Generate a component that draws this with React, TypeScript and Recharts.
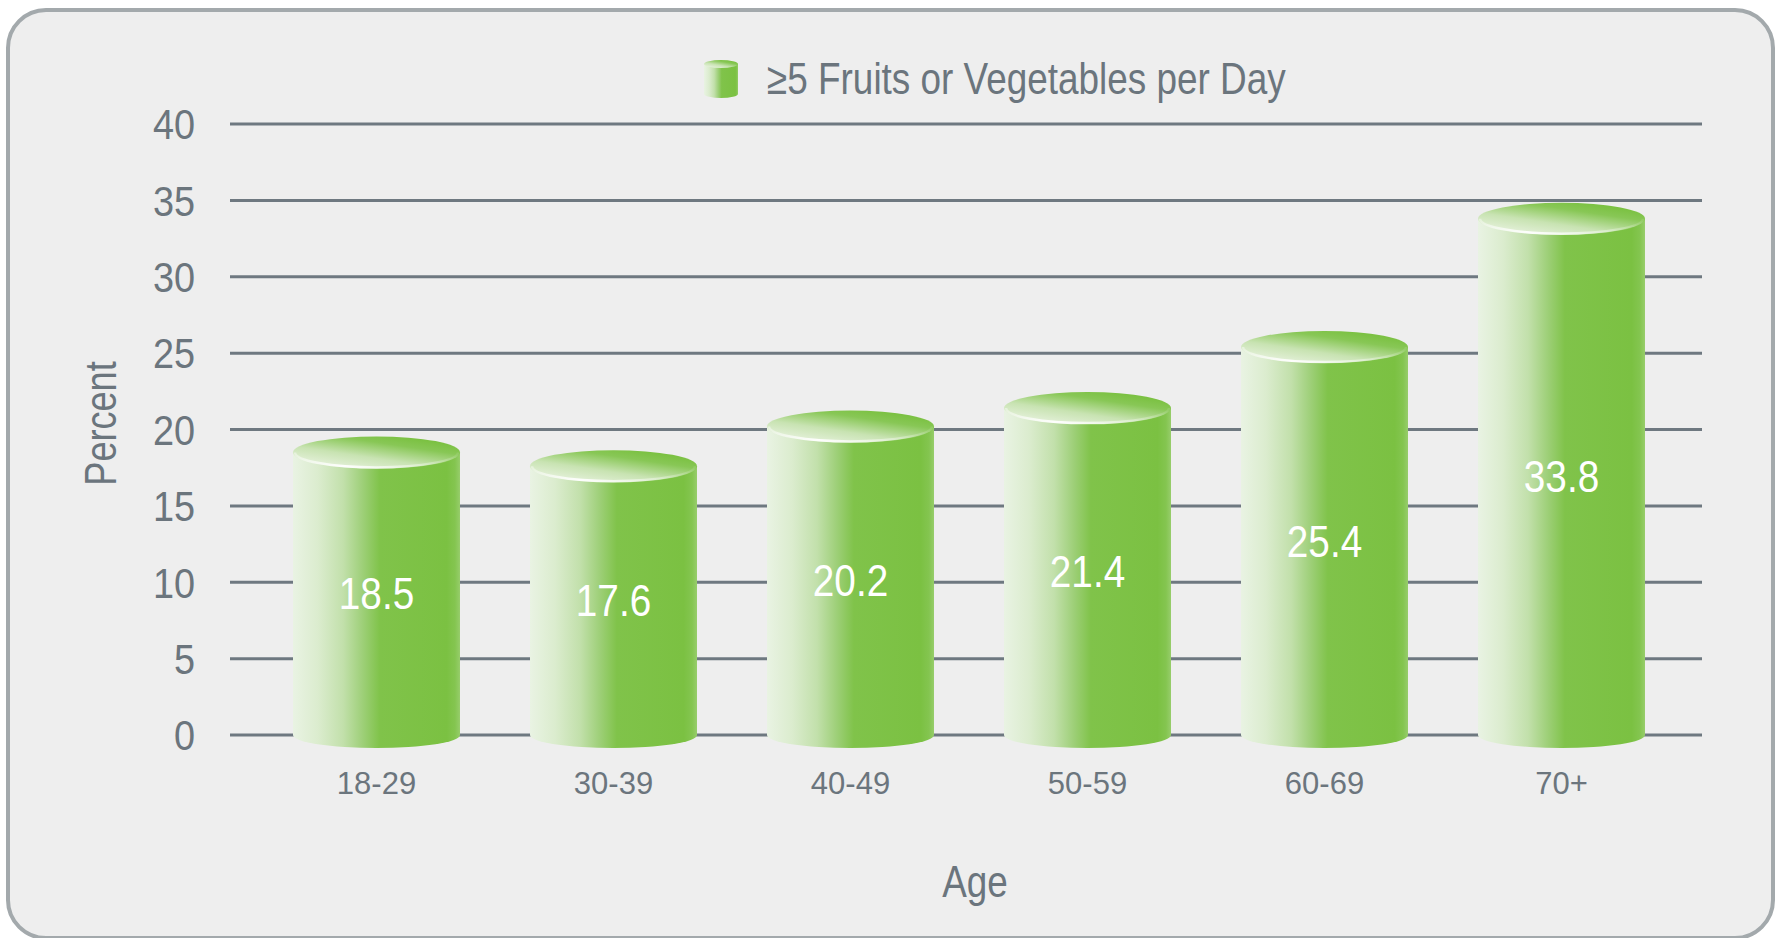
import React from "react";
import { BarChart, Bar, XAxis, YAxis, CartesianGrid, Legend, LabelList } from "recharts";

const ageGroups = ["18-29", "30-39", "40-49", "50-59", "60-69", "70+"];
const fruitVegPct = [18.5, 17.6, 20.2, 21.4, 25.4, 33.8];
const yTicks = [0, 5, 10, 15, 20, 25, 30, 35, 40];
const seriesName = "\u22655 Fruits or Vegetables per Day";

const chartData = ageGroups.map((age, i) => ({ age, pct: fruitVegPct[i] }));

// no condensed font installed, so Liberation Sans gets squeezed horizontally
const FONT = '"Liberation Sans", Arial, sans-serif';
const WORD_SQUEEZE = 0.82;
const DIGIT_SQUEEZE = 0.88;
const TEXT = "#6b757d";

function GradientDefs({ prefix }: { prefix: string }) {
  return (
    <defs>
      <linearGradient id={`${prefix}Body`} x1="0" y1="0" x2="1" y2="0">
        <stop offset="0" stopColor="#e9f3e3" />
        <stop offset="0.15" stopColor="#dbecce" />
        <stop offset="0.3" stopColor="#c2e0ab" />
        <stop offset="0.42" stopColor="#9dcf77" />
        <stop offset="0.52" stopColor="#80c34a" />
        <stop offset="0.92" stopColor="#7bc142" />
        <stop offset="0.97" stopColor="#84c550" />
        <stop offset="1" stopColor="#97cd6b" />
      </linearGradient>
      <linearGradient id={`${prefix}Top`} x1="0" y1="0.95" x2="0.7" y2="0.05">
        <stop offset="0" stopColor="#f0f6ea" />
        <stop offset="0.45" stopColor="#c8e3b2" />
        <stop offset="0.8" stopColor="#88c756" />
        <stop offset="1" stopColor="#7bc142" />
      </linearGradient>
      <linearGradient id={`${prefix}Rim`} x1="0" y1="0" x2="1" y2="0">
        <stop offset="0" stopColor="#ffffff" stopOpacity={0.4} />
        <stop offset="0.3" stopColor="#ffffff" stopOpacity={0.95} />
        <stop offset="0.65" stopColor="#ffffff" stopOpacity={0.5} />
        <stop offset="1" stopColor="#ffffff" stopOpacity={0.1} />
      </linearGradient>
    </defs>
  );
}

function Cylinder(props: any) {
  const { x, y, width, height } = props;
  const rx = width / 2;
  const ry = 16;
  const bry = 13;
  const bottom = y + height;
  const body = `M${x},${y} L${x},${bottom} A${rx},${bry} 0 0 0 ${x + width},${bottom} L${x + width},${y} Z`;
  return (
    <g>
      <path d={body} fill="url(#cylBody)" />
      <ellipse cx={x + rx} cy={y} rx={rx} ry={ry} fill="url(#cylTop)" />
      <path
        d={`M${x + 2},${y} A${rx - 2},${ry - 1} 0 0 0 ${x + width - 2},${y}`}
        fill="none"
        stroke="url(#cylRim)"
        strokeWidth={2.5}
      />
    </g>
  );
}

function YTick({ x, y, payload }: any) {
  return (
    <text transform={`translate(${x},${y}) scale(${DIGIT_SQUEEZE},1)`} textAnchor="end" dy="0.355em" fill={TEXT} fontSize={43} fontFamily={FONT}>
      {payload.value}
    </text>
  );
}

function XTick({ x, y, payload }: any) {
  return (
    <text x={x} y={y} textAnchor="middle" dy="0.71em" fill={TEXT} fontSize={31} fontFamily={FONT}>
      {payload.value}
    </text>
  );
}

function ValueLabel({ x, y, width, height, value }: any) {
  const cx = x + width / 2;
  const cy = y + height / 2;
  return (
    <text transform={`translate(${cx},${cy}) scale(${DIGIT_SQUEEZE},1)`} textAnchor="middle" dy="0.355em" fill="#ffffff" fontSize={44} fontFamily={FONT}>
      {value}
    </text>
  );
}

function PercentTitle({ viewBox }: any) {
  const cx = viewBox.x + 100;
  const cy = viewBox.y + viewBox.height / 2 - 6;
  return (
    <text transform={`translate(${cx},${cy}) rotate(-90) scale(${WORD_SQUEEZE},1)`} textAnchor="middle" dy="0.355em" fill={TEXT} fontSize={44} fontFamily={FONT}>
      Percent
    </text>
  );
}

function AgeTitle({ viewBox }: any) {
  const cx = viewBox.x + viewBox.width / 2 + 9;
  const by = viewBox.y + viewBox.height - 41;
  return (
    <text transform={`translate(${cx},${by}) scale(${WORD_SQUEEZE},1)`} textAnchor="middle" fill={TEXT} fontSize={45} fontFamily={FONT}>
      Age
    </text>
  );
}

function LegendContent() {
  return (
    <div style={{ height: 60, position: "relative" }}>
      <svg width={36} height={40} style={{ position: "absolute", left: 703, top: 0, display: "block" }}>
        <GradientDefs prefix="leg" />
        <path d="M1,5 L1,35 A17,4 0 0 0 35,35 L35,5 Z" fill="url(#legBody)" />
        <ellipse cx={18} cy={5} rx={17} ry={4} fill="url(#legTop)" />
      </svg>
      <span
        style={{
          position: "absolute",
          left: 767,
          top: 0,
          fontFamily: FONT,
          fontSize: 45,
          color: TEXT,
          lineHeight: "40px",
          whiteSpace: "nowrap",
          transform: `scaleX(${WORD_SQUEEZE})`,
          transformOrigin: "left center",
        }}
      >
        {seriesName}
      </span>
    </div>
  );
}

export default function App() {
  return (
    <div style={{ position: "absolute", left: 0, top: 0, width: 1779, height: 938, background: "#ffffff", overflow: "hidden" }}>
      <div
        style={{
          position: "absolute",
          left: 6,
          top: 8,
          width: 1769,
          height: 932,
          boxSizing: "border-box",
          border: "4px solid #a3a9ac",
          borderRadius: 40,
          background: "#eeeeee",
        }}
      />
      <div style={{ position: "absolute", left: 0, top: 0 }}>
        <BarChart width={1779} height={938} data={chartData} margin={{ top: 64, right: 77, bottom: 0, left: 0 }}>
          <GradientDefs prefix="cyl" />
          <CartesianGrid vertical={false} stroke="#6e7880" strokeWidth={3} />
          <Legend verticalAlign="top" align="center" content={<LegendContent />} wrapperStyle={{ top: 59, left: 0, width: 1779 }} />
          <XAxis
            dataKey="age"
            height={203}
            tickLine={false}
            axisLine={false}
            tickSize={0}
            tickMargin={37}
            padding={{ left: 28, right: 22 }}
            tick={<XTick />}
            label={<AgeTitle />}
          />
          <YAxis
            domain={[0, 40]}
            ticks={yTicks}
            width={230}
            tickLine={false}
            axisLine={false}
            tickSize={0}
            tickMargin={35}
            tick={<YTick />}
            label={<PercentTitle />}
          />
          <Bar dataKey="pct" name={seriesName} barSize={167} shape={<Cylinder />} isAnimationActive={false}>
            <LabelList dataKey="pct" content={<ValueLabel />} />
          </Bar>
        </BarChart>
      </div>
    </div>
  );
}
